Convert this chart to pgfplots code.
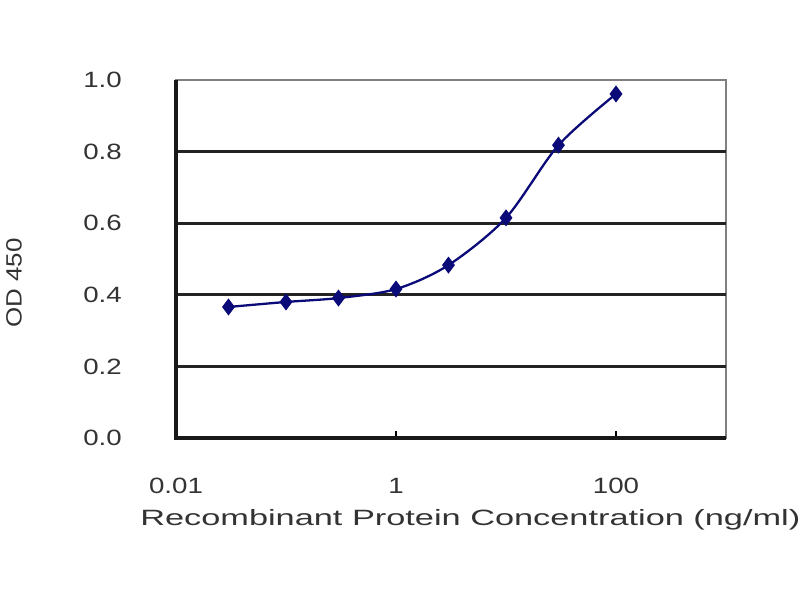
\documentclass[border=0pt]{standalone}
\usepackage{pgfplots}
\pgfplotsset{compat=1.18}
\usepackage{graphicx}
\usepackage{fontspec}
\setmainfont{Liberation Sans}
\definecolor{navy}{RGB}{10,10,120}
\definecolor{bordergray}{RGB}{128,128,128}
\definecolor{gridgray}{RGB}{35,35,35}
\begin{document}
\begin{tikzpicture}
\path[use as bounding box] (0,0) rectangle (16cm,12cm);
\begin{axis}[
  at={(3.52cm,3.24cm)}, anchor=south west,
  scale only axis, width=11cm, height=7.16cm,
  xmode=log, xmin=0.01, xmax=1000,
  ymin=0, ymax=1,
  xtick={0.01,1,100}, xticklabels={0.01,1,100},
  minor xtick={}, xtick pos=bottom, xtick align=inside,
  ytick={0,0.2,0.4,0.6,0.8,1.0},
  extra y ticks={0.2,0.4,0.6,0.8}, extra y tick labels={},
  extra y tick style={grid=major, major tick length=0pt},
  y grid style={gridgray, line width=1.5pt},
  /pgf/number format/assume math mode=true,
  yticklabel style={/pgf/number format/fixed, /pgf/number format/precision=1, /pgf/number format/fixed zerofill},
  tick label style={font=\fontsize{12.6}{15}\selectfont, text=black!80, xscale=1.25, inner sep=0pt},
  yticklabel style={anchor=east, xshift=-0.86cm},
  xticklabel style={anchor=north, yshift=-0.8cm},
  ytick style={draw=none},
  xtick style={black, line width=1pt},
  major tick length=4pt,
  axis line style={bordergray, line width=1.2pt},
  xlabel={\scalebox{1.55}[1]{Recombinant Protein Concentration (ng/ml)}},
  xlabel style={font=\fontsize{12.6}{15}\selectfont, text=black!80, at={(rel axis cs:-0.0655,-0.229)}, anchor=west, inner sep=0pt},
  ylabel={\scalebox{1.17}[1]{OD 450}},
  ylabel style={font=\fontsize{12.6}{15}\selectfont, text=black!80, at={(rel axis cs:-0.2945,0.433)}, anchor=center, rotate=0, inner sep=0pt},
  clip=false,
]
\addplot[navy, line width=1.3pt, smooth, mark=diamond*, mark size=3.8pt, mark options={fill=navy}]
coordinates {
(0.03,0.366) (0.1,0.380) (0.3,0.391) (1,0.416) (3,0.483) (10,0.615) (30,0.818) (100,0.961)
};
\draw[black!90, line width=1.8pt] (rel axis cs:0,1) -- (rel axis cs:0,0) -- (rel axis cs:1,0);
\end{axis}
\end{tikzpicture}
\end{document}
